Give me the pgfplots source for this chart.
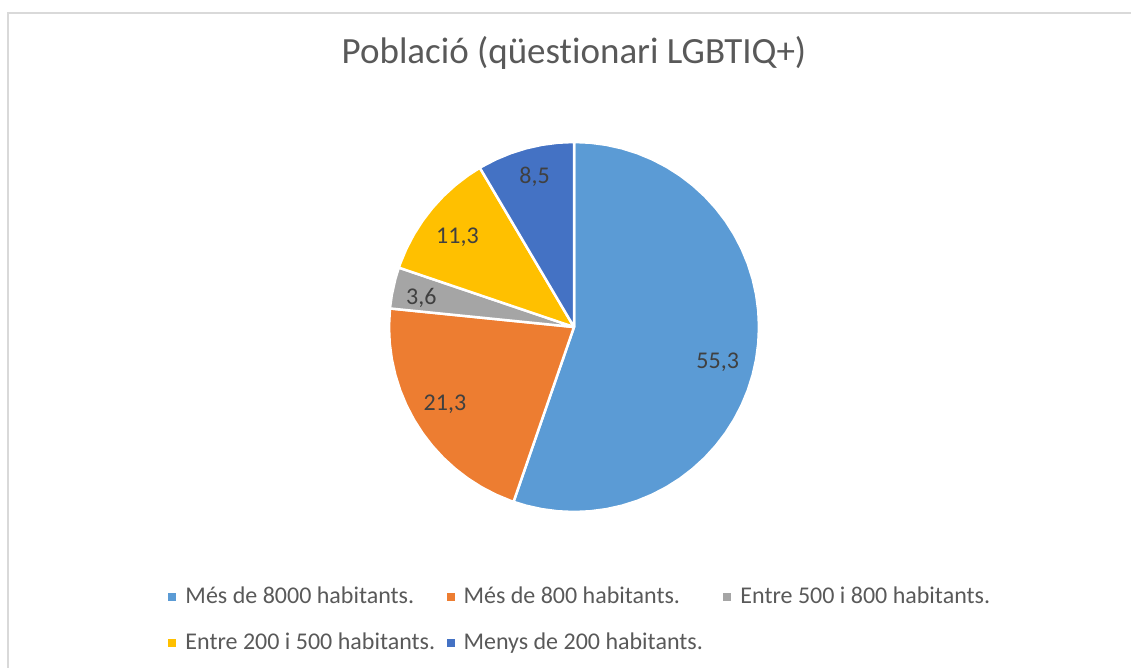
\documentclass[border=0pt]{standalone}
\usepackage{fontspec}
\setmainfont{Carlito}[Ligatures=NoCommon]
\usepackage{pgfplots}
\pgfplotsset{compat=1.18}
\usepgfplotslibrary{polar}

\definecolor{s1}{HTML}{5B9BD5}
\definecolor{s2}{HTML}{ED7D31}
\definecolor{s3}{HTML}{A5A5A5}
\definecolor{s4}{HTML}{FFC000}
\definecolor{s5}{HTML}{4472C4}
\definecolor{titlegray}{HTML}{595959}
\definecolor{labelgray}{HTML}{404040}
\definecolor{framegray}{HTML}{D9D9D9}

% values: 55.3, 21.3, 3.6, 11.3, 8.5 (%), clockwise from 12 o'clock
% slice edges (deg): 90 | -109.08 | -185.76 | -198.72 | -239.4 | -270

\begin{document}
\begin{tikzpicture}
\path[use as bounding box] (0pt,0pt) rectangle (1131pt,667pt);
\draw[framegray, line width=1.5pt] (8pt,-2pt) -- (8pt,654pt) -- (1133pt,654pt);
\node[anchor=base, text=titlegray, font=\fontsize{37}{44}\selectfont, inner sep=0pt]
  at (574pt,603.7pt) {Població (qüestionari LGBTIQ+)};

\begin{polaraxis}[
    at={(574pt,340pt)}, anchor=center,
    scale only axis, width=370pt, height=370pt,
    xmin=0, xmax=360, ymin=0, ymax=1,
    hide axis, clip=false,
    every axis plot/.append style={draw=white, line width=2.5pt, line join=round, line cap=round},
    legend columns=3,
    legend image code/.code={\fill[#1,draw=none] (0pt,-4pt) rectangle (8pt,4pt);},
    legend style={
        draw=none, fill=none, inner sep=0pt,
        at={(-0.5965,-0.2003)}, anchor=north west,
        cells={anchor=west},
        font=\fontsize{24}{29}\selectfont, text=titlegray,
        nodes={inner sep=0pt, text height=17pt, text depth=5pt},
        row sep=24pt,
        /tikz/every odd column/.append style={column sep=9pt},
        /tikz/column 2/.append style={column sep=11.4pt},
        /tikz/column 4/.append style={column sep=20.6pt},
    },
]
\addplot[fill=s1] coordinates {(0,0) (-109.08,1) (-105,1) (-100,1) (-95,1) (-90,1) (-85,1) (-80,1)
  (-75,1) (-70,1) (-65,1) (-60,1) (-55,1) (-50,1) (-45,1) (-40,1) (-35,1) (-30,1) (-25,1) (-20,1)
  (-15,1) (-10,1) (-5,1) (0,1) (5,1) (10,1) (15,1) (20,1) (25,1) (30,1) (35,1) (40,1) (45,1) (50,1)
  (55,1) (60,1) (65,1) (70,1) (75,1) (80,1) (85,1) (90,1) (0,0)};
\addlegendentry{Més de 8000 habitants.}
\addplot[fill=s2] coordinates {(0,0) (-185.76,1) (-180,1) (-175,1) (-170,1) (-165,1) (-160,1)
  (-155,1) (-150,1) (-145,1) (-140,1) (-135,1) (-130,1) (-125,1) (-120,1) (-115,1) (-110,1)
  (-109.08,1) (0,0)};
\addlegendentry{Més de 800 habitants.}
\addplot[fill=s3] coordinates {(0,0) (-198.72,1) (-195,1) (-190,1) (-185.76,1) (0,0)};
\addlegendentry{Entre 500 i 800 habitants.}
\addplot[fill=s4] coordinates {(0,0) (-239.4,1) (-235,1) (-230,1) (-225,1) (-220,1) (-215,1)
  (-210,1) (-205,1) (-200,1) (-198.72,1) (0,0)};
\addlegendentry{Entre 200 i 500 habitants.}
\addplot[fill=s5] coordinates {(0,0) (-270,1) (-265,1) (-260,1) (-255,1) (-250,1) (-245,1)
  (-240,1) (-239.4,1) (0,0)};
\addlegendentry{Menys de 200 habitants.}

% data labels
\addplot[forget plot, draw=none, mark=none, point meta=explicit,
    nodes near coords={\pgfmathprintnumber[fixed, fixed zerofill, precision=1, use comma, assume math mode=true]{\pgfplotspointmeta}},
    nodes near coords style={anchor=center, text=labelgray, font=\fontsize{24}{29}\selectfont}]
  coordinates {(-13.8,0.80) [55.3] (210.9,0.813) [21.3] (169.4,0.84) [3.6] (142.5,0.794) [11.3] (104.7,0.84) [8.5]};
\end{polaraxis}
\end{tikzpicture}
\end{document}
